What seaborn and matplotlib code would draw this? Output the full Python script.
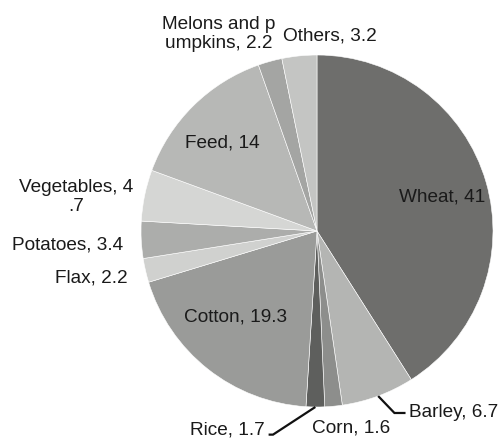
import numpy as np
import matplotlib
matplotlib.use("Agg")
import matplotlib.pyplot as plt
import seaborn as sns

# Crop shares (%)
crops = ["Wheat", "Barley", "Corn", "Rice", "Cotton", "Flax", "Potatoes",
         "Vegetables", "Feed", "Melons and pumpkins", "Others"]
shares = [41, 6.7, 1.6, 1.7, 19.3, 2.2, 3.4, 4.7, 14, 2.2, 3.2]
label_text = ["Wheat, 41", "Barley, 6.7", "Corn, 1.6", "Rice, 1.7", "Cotton, 19.3",
              "Flax, 2.2", "Potatoes, 3.4", "Vegetables, 4\n.7", "Feed, 14",
              "Melons and p\numpkins, 2.2", "Others, 3.2"]

# Grey shades for the wedges
shades = ["#6e6e6c", "#b4b5b3", "#8d8e8c", "#5e5f5d", "#9a9b99", "#d0d1cf",
          "#acadab", "#d5d6d4", "#b7b8b6", "#a4a5a3", "#c4c5c3"]

# Label placement (x, y, horizontal alignment) in pie units
label_pos = [(0.713, 0.193, "center"), (0.523, -1.03, "left"), (0.193, -1.119, "center"),
             (-0.295, -1.132, "right"), (-0.46, -0.489, "center"), (-1.281, -0.268, "center"),
             (-1.418, -0.08, "center"), (-1.369, 0.193, "center"), (-0.537, 0.50, "center"),
             (-0.557, 1.119, "center"), (0.074, 1.108, "center")]
# Wedges that get an elbow leader line to their label
leaders = {"Barley": 0.44, "Rice": -0.25}

sns.set_theme(style="white")
plt.rcParams["font.family"] = ["Liberation Sans", "DejaVu Sans"]

fig = plt.figure(figsize=(5.02, 4.38), dpi=100)
ax = fig.add_axes([0, 0, 1, 1])

wedges, _ = ax.pie(shares, colors=shades, startangle=90, counterclock=False,
                   radius=1.0, center=(0, 0),
                   wedgeprops=dict(linewidth=0.4, edgecolor="white"))

for w, txt, (x, y, ha) in zip(wedges, label_text, label_pos):
    ax.text(x, y, txt, ha=ha, va="center", fontsize=13.7, color="#1a1a1a",
            linespacing=1.2)

for name, elbow_x in leaders.items():
    w = wedges[crops.index(name)]
    mid = np.deg2rad((w.theta1 + w.theta2) / 2)
    x0, y0 = np.cos(mid), np.sin(mid)
    lx, ly, ha = label_pos[crops.index(name)]
    end_x = lx - 0.02 if ha == "left" else lx + 0.02
    ly_line = ly - 0.004 if name == "Barley" else ly - 0.025
    ax.plot([x0, elbow_x, end_x], [y0, ly_line, ly_line], color="#111111",
            lw=1.6, solid_capstyle="butt", solid_joinstyle="miter")

ax.set_aspect("auto")
ax.set_xlim(-317 / 176, 185 / 176)
ax.set_ylim(-207 / 176, 231 / 176)
ax.axis("off")

fig.savefig("out.png", dpi=100, facecolor="white")
